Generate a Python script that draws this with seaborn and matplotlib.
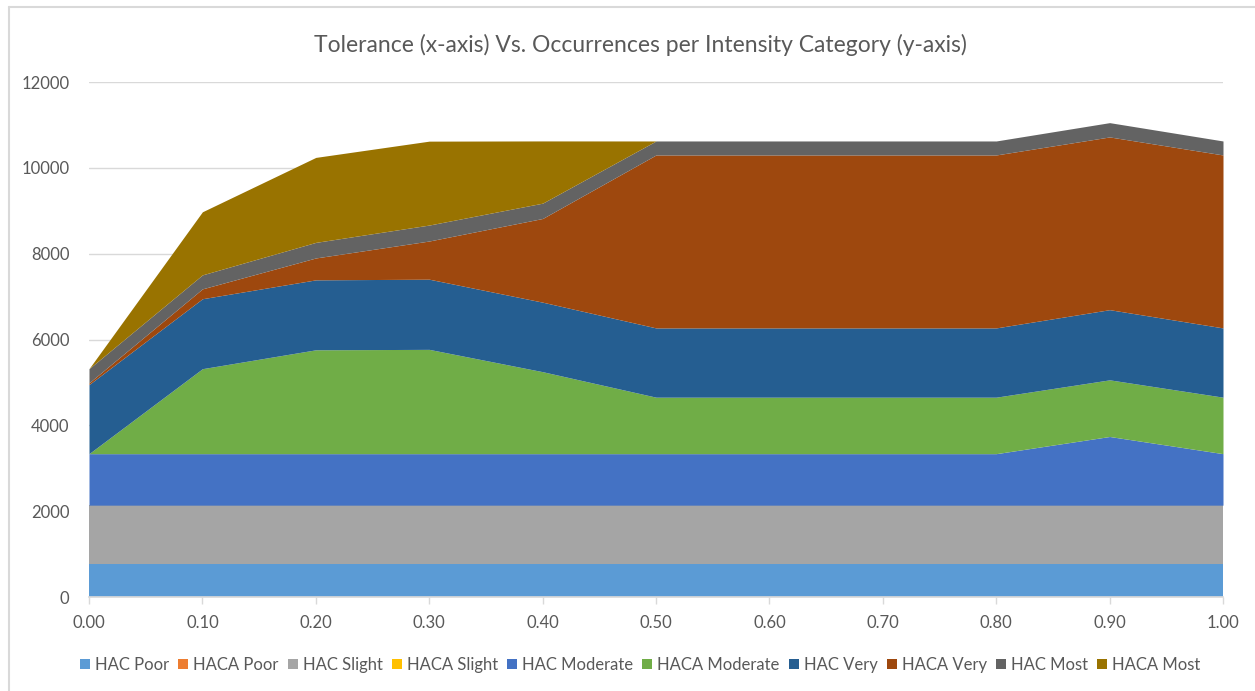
import numpy as np
import matplotlib
matplotlib.use('Agg')
import matplotlib.pyplot as plt
from matplotlib.lines import Line2D
from matplotlib.patches import Patch
import seaborn as sns

# tolerance values on the x axis
tolerance = [0.0, 0.1, 0.2, 0.3, 0.4, 0.5, 0.6, 0.7, 0.8, 0.9, 1.0]

# occurrences per category
hac_poor = [780, 780, 780, 780, 780, 780, 780, 780, 780, 780, 780]
haca_poor = [0, 0, 0, 0, 0, 0, 0, 0, 0, 0, 0]
hac_slight = [1360, 1360, 1360, 1360, 1360, 1360, 1360, 1360, 1360, 1360, 1360]
haca_slight = [0, 0, 0, 0, 0, 0, 0, 0, 0, 0, 0]
hac_moderate = [1200, 1200, 1200, 1200, 1200, 1200, 1200, 1200, 1200, 1600, 1200]
haca_moderate = [0, 1980, 2420, 2430, 1910, 1316, 1316, 1316, 1316, 1320, 1316]
hac_very = [1610, 1630, 1630, 1635, 1620, 1614, 1614, 1614, 1614, 1635, 1614]
haca_very = [40, 230, 510, 890, 1950, 4030, 4030, 4030, 4030, 4025, 4030]
hac_most = [330, 326, 363, 372, 357, 326, 326, 326, 326, 333, 326]
haca_most = [0, 1470, 1980, 1955, 1450, 0, 0, 0, 0, 0, 0]

labels = ['HAC Poor', 'HACA Poor', 'HAC Slight', 'HACA Slight', 'HAC Moderate',
          'HACA Moderate', 'HAC Very', 'HACA Very', 'HAC Most', 'HACA Most']
colors = ['#5B9BD5', '#ED7D31', '#A5A5A5', '#FFC000', '#4472C4',
          '#70AD47', '#255E91', '#9E480E', '#636363', '#997300']

series = [hac_poor, haca_poor, hac_slight, haca_slight, hac_moderate,
          haca_moderate, hac_very, haca_very, hac_most, haca_most]

sns.set_theme(style='white')
plt.rcParams['font.family'] = ['Lato', 'DejaVu Sans']
palette = sns.color_palette(colors)

fig = plt.figure(figsize=(12.55, 6.91), dpi=100)
ax = fig.add_axes([89/1255, 1 - 597/691, (1223 - 89)/1255, (597 - 82)/691])

ax.stackplot(tolerance, *series, colors=palette, labels=labels, linewidth=0)

ax.set_xlim(0, 1)
ax.set_ylim(0, 12000)
ax.set_xticks(tolerance)
ax.set_xticklabels([f'{t:.2f}' for t in tolerance])
ax.set_yticks(range(0, 12001, 2000))
ax.yaxis.grid(True, color='#D9D9D9', linewidth=1)
ax.set_axisbelow(True)
ax.tick_params(axis='both', colors='#595959', labelsize=12)
ax.tick_params(axis='x', length=5, width=1, color='#D9D9D9', direction='out', pad=8)
ax.tick_params(axis='y', length=0, pad=14)
ax.xaxis.set_ticks_position('bottom')
for s in ['top', 'right', 'left']:
    ax.spines[s].set_visible(False)
ax.spines['bottom'].set_color('#D9D9D9')

fig.text(0.51, 1 - 45/691, 'Tolerance (x-axis) Vs. Occurrences per Intensity Category (y-axis)',
         ha='center', va='center', fontsize=16.5, color='#595959')

handles = [Patch(facecolor=c, edgecolor='none') for c in colors]
fig.legend(handles, labels, loc='center', bbox_to_anchor=(0.51, 1 - 665/691), ncol=10,
           frameon=False, fontsize=12, handlelength=0.6, handleheight=0.6,
           handletextpad=0.3, columnspacing=0.55, labelcolor='#595959')

# chart border (top and left visible in the screenshot)
fig.add_artist(Line2D([9/1255, 1], [1 - 7/691, 1 - 7/691], color='#D9D9D9', linewidth=1.5))
fig.add_artist(Line2D([9/1255, 9/1255], [0, 1 - 7/691], color='#D9D9D9', linewidth=1.5))

fig.savefig('out.png', dpi=100, facecolor='white')
